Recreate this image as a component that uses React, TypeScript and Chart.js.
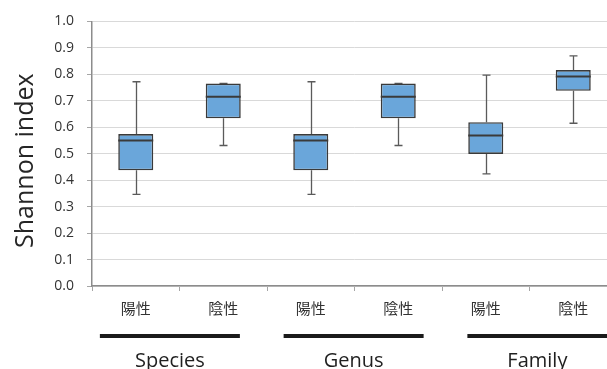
import React, { useEffect, useRef } from 'react';
import { Chart, registerables } from 'chart.js';

Chart.register(...registerables);

const categories = ['陽性', '陰性', '陽性', '陰性', '陽性', '陰性'];
const groupLabels = ['Species', 'Genus', 'Family'];
const whiskerMin = [0.346, 0.531, 0.346, 0.531, 0.424, 0.615];
const q1Values = [0.437, 0.634, 0.437, 0.634, 0.499, 0.738];
const medianValues = [0.55, 0.715, 0.55, 0.715, 0.569, 0.792];
const q3Values = [0.574, 0.765, 0.574, 0.765, 0.619, 0.816];
const whiskerMax = [0.772, 0.766, 0.772, 0.766, 0.797, 0.87];
const yTicks = [0, 0.1, 0.2, 0.3, 0.4, 0.5, 0.6, 0.7, 0.8, 0.9, 1.0];
const yTitle = 'Shannon index';

const boxPlugin = {
  id: 'boxExtras',
  beforeDatasetsDraw(chart: any) {
    const { ctx, scales } = chart;
    const x = scales.x;
    const y = scales.y;
    ctx.save();
    ctx.strokeStyle = '#5a5a5a';
    ctx.lineWidth = 1.3;
    categories.forEach((_, i) => {
      const cx = Math.round(x.getPixelForValue(i)) + 0.5;
      const yMax = y.getPixelForValue(whiskerMax[i]);
      const yQ3 = y.getPixelForValue(q3Values[i]);
      const yQ1 = y.getPixelForValue(q1Values[i]);
      const yMin = y.getPixelForValue(whiskerMin[i]);
      const cap = 4;
      ctx.beginPath();
      ctx.moveTo(cx, yQ3);
      ctx.lineTo(cx, yMax);
      ctx.moveTo(cx - cap, yMax);
      ctx.lineTo(cx + cap, yMax);
      ctx.moveTo(cx, yQ1);
      ctx.lineTo(cx, yMin);
      ctx.moveTo(cx - cap, yMin);
      ctx.lineTo(cx + cap, yMin);
      ctx.stroke();
    });
    ctx.restore();
  },
  afterDatasetsDraw(chart: any) {
    const { ctx, scales } = chart;
    const x = scales.x;
    const y = scales.y;
    const meta = chart.getDatasetMeta(0);
    ctx.save();
    ctx.strokeStyle = '#3a3a3a';
    ctx.lineWidth = 2;
    categories.forEach((_, i) => {
      const cx = x.getPixelForValue(i);
      const w = meta.data[i].width;
      const ym = y.getPixelForValue(medianValues[i]);
      ctx.beginPath();
      ctx.moveTo(cx - w / 2, ym);
      ctx.lineTo(cx + w / 2, ym);
      ctx.stroke();
    });
    ctx.restore();
  },
  afterDraw(chart: any) {
    const { ctx, scales, chartArea } = chart;
    const x = scales.x;
    ctx.save();
    // y-axis title
    ctx.fillStyle = '#262626';
    ctx.font = "25px 'Open Sans'";
    ctx.textAlign = 'center';
    ctx.textBaseline = 'alphabetic';
    ctx.translate(33, (chartArea.top + chartArea.bottom) / 2 + 7);
    ctx.rotate(-Math.PI / 2);
    ctx.fillText(yTitle, 0, 0);
    ctx.restore();

    ctx.save();
    const step = x.getPixelForValue(1) - x.getPixelForValue(0);
    groupLabels.forEach((label, g) => {
      const startV = -0.41 + 2.1 * g;
      const x0 = x.getPixelForValue(0) + startV * step;
      const x1 = x0 + 1.6 * step;
      ctx.strokeStyle = '#1a1a1a';
      ctx.lineWidth = 4;
      ctx.beginPath();
      ctx.moveTo(x0, 336);
      ctx.lineTo(x1, 336);
      ctx.stroke();
      ctx.fillStyle = '#1f1f1f';
      ctx.font = "20px 'Open Sans'";
      ctx.textAlign = 'center';
      ctx.textBaseline = 'alphabetic';
      ctx.fillText(label, (x0 + x1) / 2, 367);
    });
    ctx.restore();
  },
};

export default function App() {
  const canvasRef = useRef<HTMLCanvasElement | null>(null);

  useEffect(() => {
    const canvas = canvasRef.current;
    if (!canvas) return;
    const chart = new Chart(canvas, {
      type: 'bar',
      data: {
        labels: categories,
        datasets: [
          {
            data: categories.map((_, i) => [q1Values[i], q3Values[i]]) as any,
            backgroundColor: '#6aa6da',
            borderColor: '#3a3a3a',
            borderWidth: 1.6,
            borderSkipped: false,
            barPercentage: 0.4,
            categoryPercentage: 1,
          },
        ],
      },
      options: {
        responsive: false,
        animation: false,
        layout: { padding: { top: 20, right: 3, left: 0, bottom: 0 } },
        plugins: {
          legend: { display: false },
          tooltip: { enabled: false },
        },
        scales: {
          x: {
            type: 'category',
            offset: true,
            grid: {
              offset: true,
              drawOnChartArea: false,
              drawTicks: true,
              tickLength: 5,
              tickColor: '#a6a6a6',
            },
            border: { color: '#8c8c8c', width: 1.5 },
            ticks: {
              color: '#333333',
              font: { family: "'Noto Sans CJK JP'", size: 15 },
              padding: 8,
              maxRotation: 0,
              autoSkip: false,
            },
            afterFit(s: any) {
              s.height = 83;
            },
          },
          y: {
            min: 0,
            max: 1,
            afterBuildTicks(s: any) {
              s.ticks = yTicks.map((v) => ({ value: v }));
            },
            ticks: {
              callback: (v: any) => Number(v).toFixed(1),
              color: '#333333',
              font: { family: "'Open Sans'", size: 14 },
              padding: 13,
            },
            grid: {
              color: '#d9d9d9',
              lineWidth: 1,
              tickLength: 5,
              tickColor: '#a6a6a6',
            },
            border: { color: '#8c8c8c', width: 1.5 },
            afterFit(s: any) {
              s.width = 92;
            },
          },
        },
      } as any,
      plugins: [boxPlugin],
    });
    return () => chart.destroy();
  }, []);

  return (
    <div
      style={{
        position: 'fixed',
        left: 0,
        top: 0,
        width: 607,
        height: 369,
        overflow: 'hidden',
        background: '#ffffff',
      }}
    >
      <canvas ref={canvasRef} width={620} height={369} style={{ display: 'block' }} />
    </div>
  );
}
